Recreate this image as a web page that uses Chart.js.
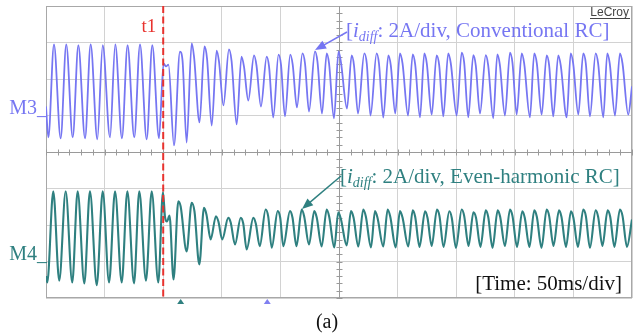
<!DOCTYPE html>
<html>
<head>
<meta charset="utf-8">
<script src="https://cdn.jsdelivr.net/npm/chart.js@4.4.0/dist/chart.umd.min.js"></script>
<style>
html, body { margin: 0; padding: 0; background: #fff; }
</style>
</head>
<body>
<canvas id="scope" width="640" height="335"></canvas>
<script>
// time in ms (50 ms/div), current in A (2 A/div)
const timeRange = [0, 500];
const t1Time = 100;
const markerTimes = [114.9, 188.8];

// M3: conventional RC, [ms, A]
const m3Trace = [
  [0, 0.5], [2.0, -1.2], [6.8, 3.9], [12.5, -1.25], [17.3, 3.9], [22.8, -1.2], [27.6, 3.85], [33.3, -1.25],
  [38.1, 3.9], [43.8, -1.3], [48.4, 3.85], [54.6, -1.2], [59.1, 3.9], [64.8, -1.25], [69.6, 3.85], [75.3, -1.2],
  [80.2, 3.9], [85.9, -1.3], [90.7, 3.85], [96.4, -1.25],
  [100.3, 2.85], [102.4, 2.69], [104.5, 2.79], [109.2, -1.64], [114.3, 3.5], [116.5, 3.01], [120.0, -1.48],
  [124.3, 3.95], [126.3, 3.23], [131.0, -0.38], [135.2, 3.78], [137.4, 3.12], [141.4, -0.55], [145.6, 3.56],
  [147.6, 2.96], [151.4, 0.55], [156.1, 3.62], [158.3, 3.01], [162.7, -0.49], [166.8, 3.23], [168.9, 2.69],
  [172.6, 0.82], [177.5, 3.29], [179.6, 2.74], [183.4, 0.49], [188.3, 3.23], [190.3, 2.69], [193.9, -0.11],
  [198.4, 3.34], [200.5, 2.79], [203.9, -0.05], [208.4, 3.34], [210.5, 2.79], [214.1, 0.44], [218.8, 3.4],
  [221.0, 2.85], [224.4, 0.22], [229.5, 3.51], [231.6, 2.96], [235.5, 0.11], [239.5, 3.4], [241.5, 2.85],
  [245.7, -0.16], [249.6, 3.51], [251.7, 2.9], [256.8, 0.38], [260.8, 3.29], [262.8, 2.74], [266.2, 0.11],
  [271.6, 3.4], [273.7, 2.85], [276.9, 0], [282.1, 3.4], [284.1, 2.85], [287.8, -0.11], [292.1, 3.29],
  [294.2, 2.74], [298.0, 0.11], [302.0, 3.4], [304.2, 2.85], [308.9, 0],
  [312.9, 3.35], [315.0, 2.8], [319.1, -0.1], [322.8, 3.4], [324.9, 2.85], [329.1, 0.05], [333.3, 3.3],
  [335.5, 2.75], [339.0, -0.05], [343.2, 3.4], [345.4, 2.85], [350.4, 0.0], [354.7, 3.45], [356.8, 2.9],
  [360.3, -0.1], [364.6, 3.3], [366.7, 2.75], [370.3, 0.1], [375.2, 3.3], [377.3, 2.75], [381.6, -0.15],
  [385.1, 3.35], [387.2, 2.8], [391.6, 0.0], [395.9, 3.45], [398.0, 2.9], [401.6, 0.05], [405.9, 3.4],
  [408.0, 2.85], [412.9, -0.1], [416.6, 3.4], [418.8, 2.85], [422.9, 0.05], [427.2, 3.3], [429.3, 2.75],
  [432.8, -0.05], [437.1, 3.3], [439.2, 2.75], [444.3, -0.1], [447.7, 3.4], [449.8, 2.85], [454.2, 0.05],
  [458.4, 3.4], [460.6, 2.85], [464.1, -0.05], [469.0, 3.4], [471.1, 2.85], [475.5, -0.1], [478.9, 3.4],
  [481.0, 2.85], [485.5, 0.0], [489.7, 3.4], [491.9, 2.85], [496.8, 0.05], [500, 1.6]
];

// M4: even-harmonic RC, [ms, A]
const m4Trace = [
  [0, -0.8], [1.1, -1.15], [6.2, 3.85], [11.3, -1.05], [16.8, 3.85], [22.4, -1.15], [27.0, 3.85], [32.7, -1.2],
  [37.5, 3.85], [43.3, -1.3], [48.4, 3.85], [53.8, -1.15], [58.9, 3.85], [64.6, -1.15], [69.4, 3.85],
  [75.1, -1.2], [79.6, 3.85], [85.3, -1.05], [90.2, 3.85], [95.8, -1.15], [99.8, 3.8],
  [101.6, 2.41], [103.2, 2.19], [105.4, 2.52], [108.8, -0.99], [112.9, 3.3], [114.9, 3.01], [120.0, 0.55],
  [124.3, 3.22], [126.7, 2.74], [130.8, -0.16], [134.8, 2.94], [136.9, 2.58], [140.5, 1.21], [145.0, 2.48],
  [147.1, 2.19], [150.4, 1.21], [155.5, 2.39], [157.6, 2.14], [161.3, 0.93], [166.1, 2.39], [168.3, 2.08],
  [171.2, 0.66], [176.9, 2.39], [179.0, 2.08], [182.4, 0.84], [187.4, 2.85], [189.6, 2.47], [192.6, 0.75],
  [197.7, 2.76], [199.8, 2.41], [202.5, 0.84], [208.2, 2.76], [210.3, 2.41], [213.7, 0.84], [218.2, 2.85],
  [220.3, 2.47], [224.4, 0.93], [228.9, 2.76], [231.0, 2.41], [235.2, 0.82], [239.5, 2.85], [241.6, 2.47],
  [246.0, 0.77], [249.4, 2.69], [251.5, 2.36], [256.6, 0.88], [260.2, 2.76], [262.4, 2.41], [266.5, 0.82],
  [270.7, 2.85], [272.9, 2.47], [277.3, 0.77], [280.7, 2.76], [282.8, 2.41], [287.8, 0.82], [291.5, 2.85],
  [293.7, 2.47], [298.4, 0.77], [302.0, 2.76], [304.2, 2.41], [309.1, 0.82],
  [312.9, 2.8], [315.0, 2.45], [318.7, 0.8], [323.4, 2.75], [325.5, 2.4], [329.1, 0.85], [333.6, 2.85],
  [335.7, 2.5], [339.2, 0.8], [344.1, 2.75], [346.2, 2.4], [349.8, 0.75], [354.7, 2.85], [356.8, 2.5],
  [360.5, 0.85], [364.7, 2.7], [366.9, 2.4], [370.7, 0.8], [375.2, 2.8], [377.3, 2.45], [381.0, 0.75],
  [385.4, 2.8], [387.5, 2.45], [391.6, 0.85], [395.9, 2.85], [398.0, 2.5], [401.9, 0.8], [406.4, 2.75],
  [408.5, 2.4], [412.5, 0.8], [416.6, 2.8], [418.8, 2.45], [422.8, 0.75], [427.2, 2.85], [429.3, 2.5],
  [433.0, 0.85], [437.7, 2.8], [439.8, 2.45], [443.7, 0.8], [447.9, 2.75], [450.0, 2.4], [453.9, 0.8],
  [458.4, 2.85], [460.6, 2.5], [464.1, 0.75], [469.0, 2.8], [471.1, 2.45], [474.8, 0.85], [479.2, 2.8],
  [481.4, 2.45], [485.0, 0.8], [489.7, 2.85], [491.9, 2.5], [495.7, 0.8], [500, 2.3]
];

const m3Color = '#7676f2';
const m4Color = '#2f8080';
const serif = '"Liberation Serif", "Times New Roman", serif';

function toXY(trace) {
  return trace.map(function(p) { return { x: p[0], y: p[1] }; });
}

function traceSet(trace, axis, color, width) {
  return {
    data: toXY(trace),
    yAxisID: axis,
    borderColor: color,
    borderWidth: width,
    pointRadius: 0,
    fill: false,
    cubicInterpolationMode: 'monotone'
  };
}

function drawArrow(ctx, x0, y0, x1, y1, color) {
  var ang = Math.atan2(y1 - y0, x1 - x0);
  ctx.strokeStyle = color;
  ctx.fillStyle = color;
  ctx.lineWidth = 1.5;
  ctx.beginPath();
  ctx.moveTo(x0, y0);
  ctx.lineTo(x1 - 8 * Math.cos(ang), y1 - 8 * Math.sin(ang));
  ctx.stroke();
  ctx.beginPath();
  ctx.moveTo(x1, y1);
  ctx.lineTo(x1 - 11 * Math.cos(ang) + 4.5 * Math.sin(ang), y1 - 11 * Math.sin(ang) - 4.5 * Math.cos(ang));
  ctx.lineTo(x1 - 11 * Math.cos(ang) - 4.5 * Math.sin(ang), y1 - 11 * Math.sin(ang) + 4.5 * Math.cos(ang));
  ctx.closePath();
  ctx.fill();
}

// "[i_diff: ..." label with italic subscript
function drawLabel(ctx, x, y, rest, color) {
  ctx.fillStyle = color;
  ctx.textAlign = 'left';
  ctx.textBaseline = 'alphabetic';
  ctx.font = '21px ' + serif;
  ctx.fillText('[', x, y);
  x += ctx.measureText('[').width;
  ctx.font = 'italic 21px ' + serif;
  ctx.fillText('i', x, y);
  x += ctx.measureText('i').width;
  ctx.font = 'italic 14px ' + serif;
  ctx.fillText('diff', x, y + 4);
  x += ctx.measureText('diff').width;
  ctx.font = '21px ' + serif;
  ctx.fillText(rest, x, y);
}

const scopeDecor = {
  id: 'scopeDecor',
  beforeDatasetsDraw: function(chart) {
    var ctx = chart.ctx, a = chart.chartArea, x = chart.scales.x, y = chart.scales.y3;
    ctx.save();
    ctx.strokeStyle = '#a8a8a8';
    ctx.lineWidth = 1;
    ctx.strokeRect(a.left + 0.5, a.top + 0.5, a.width - 1, a.height - 1);
    // centre cross with minor ticks
    var cx = Math.round(x.getPixelForValue(250)) + 0.5;
    var cy = Math.round(y.getPixelForValue(-2)) + 0.5;
    ctx.strokeStyle = '#9a9a9a';
    ctx.beginPath();
    ctx.moveTo(a.left, cy); ctx.lineTo(a.right, cy);
    ctx.moveTo(cx, a.top); ctx.lineTo(cx, a.bottom);
    for (var t = timeRange[0]; t <= timeRange[1]; t += 10) {
      var px = Math.round(x.getPixelForValue(t)) + 0.5;
      ctx.moveTo(px, cy - 3); ctx.lineTo(px, cy + 3);
    }
    for (var v = y.min; v <= y.max; v += 0.4) {
      var py = Math.round(y.getPixelForValue(v)) + 0.5;
      ctx.moveTo(cx - 3, py); ctx.lineTo(cx + 3, py);
    }
    ctx.stroke();
    ctx.restore();
  },
  afterDatasetsDraw: function(chart) {
    var ctx = chart.ctx, a = chart.chartArea, x = chart.scales.x;
    var y3 = chart.scales.y3, y4 = chart.scales.y4;
    ctx.save();
    // t1 dashed line
    var tx = x.getPixelForValue(t1Time);
    ctx.strokeStyle = '#e8322e';
    ctx.lineWidth = 2;
    ctx.setLineDash([7, 3.5]);
    ctx.beginPath();
    ctx.moveTo(tx, a.top);
    ctx.lineTo(tx, a.bottom);
    ctx.stroke();
    ctx.setLineDash([]);
    ctx.fillStyle = '#e8322e';
    ctx.font = '19px ' + serif;
    ctx.textAlign = 'right';
    ctx.fillText('t1', tx - 7, 32);

    // channel markers
    ctx.font = '20px ' + serif;
    ctx.textAlign = 'right';
    ctx.fillStyle = m3Color;
    ctx.fillText('M3_', a.left + 1, y3.getPixelForValue(0) - 2);
    ctx.fillStyle = m4Color;
    ctx.fillText('M4_', a.left + 1, y4.getPixelForValue(0) - 2);

    // trigger markers under the grid
    var mcol = [m4Color, '#8080f0'];
    markerTimes.forEach(function(t, i) {
      var mx = x.getPixelForValue(t);
      ctx.fillStyle = mcol[i];
      ctx.beginPath();
      ctx.moveTo(mx, a.bottom + 1);
      ctx.lineTo(mx + 3.5, a.bottom + 6);
      ctx.lineTo(mx - 3.5, a.bottom + 6);
      ctx.closePath();
      ctx.fill();
    });

    // annotations
    drawArrow(ctx, 347, 32, 315, 50, m3Color);
    drawLabel(ctx, 346, 37, ': 2A/div, Conventional RC]', m3Color);
    drawArrow(ctx, 341, 176, 302, 209, m4Color);
    drawLabel(ctx, 340, 183, ': 2A/div, Even-harmonic RC]', m4Color);

    ctx.fillStyle = '#111';
    ctx.font = '21px ' + serif;
    ctx.textAlign = 'right';
    ctx.fillText('[Time: 50ms/div]', 622, 290);

    ctx.fillStyle = '#444';
    ctx.font = '12px "Liberation Sans", Arial, sans-serif';
    ctx.fillText('LeCroy', 629, 16);
    ctx.fillRect(590, 18, 40, 1);

    ctx.fillStyle = '#111';
    ctx.font = '20px ' + serif;
    ctx.textAlign = 'center';
    ctx.fillText('(a)', 327, 328);
    ctx.restore();
  }
};

const gridStyle = { color: '#d2d2d2', lineWidth: 1, drawTicks: false };

new Chart(document.getElementById('scope').getContext('2d'), {
  type: 'line',
  data: {
    datasets: [
      traceSet(m3Trace, 'y3', m3Color, 1.8),
      traceSet(m4Trace, 'y4', m4Color, 2.1)
    ]
  },
  options: {
    responsive: false,
    animation: false,
    layout: { padding: { left: 46, right: 8, top: 6, bottom: 37 } },
    plugins: { legend: { display: false }, tooltip: { enabled: false } },
    scales: {
      x: {
        type: 'linear', min: timeRange[0], max: timeRange[1],
        ticks: { display: false, stepSize: 50 },
        grid: gridStyle,
        border: { display: false }
      },
      y3: {
        position: 'left', min: -10, max: 6,
        ticks: { display: false, stepSize: 2 },
        grid: gridStyle,
        border: { display: false }
      },
      y4: { display: false, min: -2, max: 14 }
    }
  },
  plugins: [scopeDecor]
});
</script>
</body>
</html>
